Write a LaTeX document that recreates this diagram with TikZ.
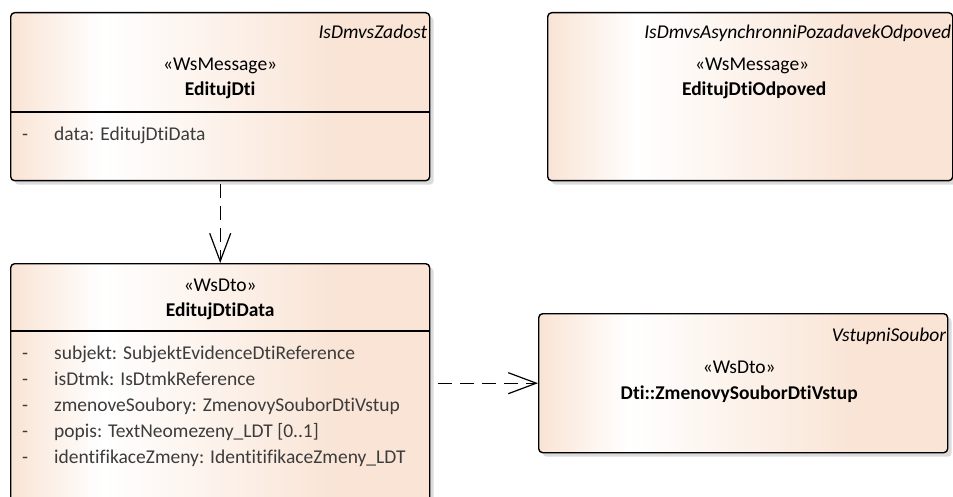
\documentclass[tikz,border=0pt]{standalone}
\usepackage{fontspec}
\setmainfont{Carlito}[Ligatures=NoCommon]
\usetikzlibrary{positioning,calc,shadows,arrows.meta}
\definecolor{classpeach}{RGB}{249,228,213}
\definecolor{attrgray}{RGB}{60,60,60}
\pgfdeclarehorizontalshading{classshade}{100bp}{color(0bp)=(classpeach); color(25bp)=(classpeach); color(36bp)=(white); color(64bp)=(classpeach); color(100bp)=(classpeach)}
\tikzstyle{depend} = [line width=1.2pt, dash pattern=on 14pt off 8pt, -{Straight Barb[length=28pt,width=21pt]}]

\begin{document}
\begin{tikzpicture}[x=1pt, y=-1pt, font=\fontsize{19.5}{23}\selectfont,
	classbox/.style={draw, line width=1.4pt, rounded corners=4pt, shading=classshade, drop shadow={shadow xshift=4pt, shadow yshift=-4pt, fill=black!14, opacity=1}, anchor=north west, inner sep=0pt},
	tagtext/.style={font=\fontsize{19.5}{23}\selectfont\itshape, anchor=base east, inner sep=0pt},
	stereo/.style={anchor=base, inner sep=0pt},
	classname/.style={font=\fontsize{19.5}{23}\selectfont\bfseries, anchor=base, inner sep=0pt},
	attr/.style={anchor=base west, inner sep=0pt, text=attrgray},
	sepline/.style={line width=1.4pt}]
	
	\useasboundingbox (0,0) rectangle (953,497);
	
	% CLASSES
	
	\node [classbox, minimum width=419pt, minimum height=168pt] (zadost) at (10,12) {};
	\node [tagtext] (zadosttag) at ([xshift=-3pt,yshift=-27pt]zadost.north east) {IsDmvsZadost};
	\node [stereo] (zadoststereo) at ([yshift=-59pt]zadost.north) {«WsMessage»};
	\node [classname] (zadostname) at ([yshift=-84pt]zadost.north) {EditujDti};
	\draw [sepline] ([yshift=-100pt]zadost.north west) -- ([yshift=-100pt]zadost.north east);
	\node [attr] (zadostdata) at ([xshift=12pt,yshift=-129pt]zadost.north west) {\makebox[32pt][l]{-}data: EditujDtiData};
	
	\node [classbox, minimum width=405pt, minimum height=168pt] (odpoved) at (547,12) {};
	\node [tagtext] (odpovedtag) at ([xshift=-2pt,yshift=-27pt]odpoved.north east) {IsDmvsAsynchronniPozadavekOdpoved};
	\node [stereo] (odpovedstereo) at ([xshift=2pt,yshift=-59pt]odpoved.north) {«WsMessage»};
	\node [classname] (odpovedname) at ([xshift=4pt,yshift=-84pt]odpoved.north) {EditujDtiOdpoved};
	
	\node [classbox, minimum width=419pt, minimum height=260pt] (data) at (10,263) {};
	\node [stereo] (datastereo) at ([yshift=-28pt]data.north) {«WsDto»};
	\node [classname] (dataname) at ([yshift=-53pt]data.north) {EditujDtiData};
	\draw [sepline] ([yshift=-68pt]data.north west) -- ([yshift=-68pt]data.north east);
	\node [attr] (subjekt) at ([xshift=12pt,yshift=-96pt]data.north west) {\makebox[32pt][l]{-}subjekt: SubjektEvidenceDtiReference};
	\node [attr] (isdtmk) at ([yshift=-26pt]subjekt.base west) {\makebox[32pt][l]{-}isDtmk: IsDtmkReference};
	\node [attr] (zmenove) at ([yshift=-26pt]isdtmk.base west) {\makebox[32pt][l]{-}zmenoveSoubory: ZmenovySouborDtiVstup};
	\node [attr] (popis) at ([yshift=-26pt]zmenove.base west) {\makebox[32pt][l]{-}popis: TextNeomezeny\_LDT [0..1]};
	\node [attr] (identifikace) at ([yshift=-26pt]popis.base west) {\makebox[32pt][l]{-}identifikaceZmeny: IdentitifikaceZmeny\_LDT};
	
	\node [classbox, minimum width=409pt, minimum height=139pt] (vstup) at (538,313) {};
	\node [tagtext] (vstuptag) at ([xshift=-2pt,yshift=-28pt]vstup.north east) {VstupniSoubor};
	\node [stereo] (vstupstereo) at ([xshift=-4pt,yshift=-60pt]vstup.north) {«WsDto»};
	\node [classname] (vstupname) at ([xshift=-4pt,yshift=-86pt]vstup.north) {Dti::ZmenovySouborDtiVstup};
	
	% DEPENDENCIES
	
	\draw [depend, shorten <=3pt] (zadost.south) -- (data.north);
	\draw [depend, shorten <=8pt] (data.east |- vstup.west) -- (vstup.west);
	
\end{tikzpicture}
\end{document}
